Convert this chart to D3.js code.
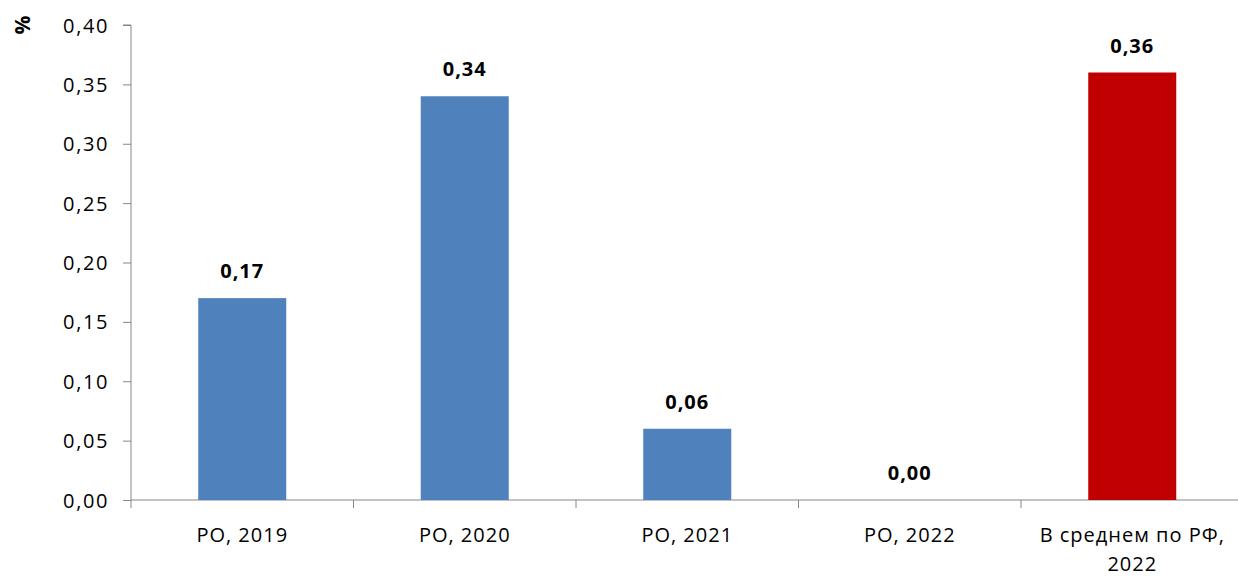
<!DOCTYPE html>
<html><head><meta charset="utf-8">
<script src="https://cdn.jsdelivr.net/npm/d3@7"></script>
<style>body{margin:0;background:#fff}svg{display:block}text{font-family:"Open Sans",sans-serif}</style>
</head><body>
<svg id="c" width="1238" height="578"></svg>
<script>
const categories = ["РО, 2019", "РО, 2020", "РО, 2021", "РО, 2022", "В среднем по РФ, 2022"];
const categoryLines = [["РО, 2019"], ["РО, 2020"], ["РО, 2021"], ["РО, 2022"], ["В среднем по РФ,", "2022"]];
const values = [0.17, 0.34, 0.06, 0.00, 0.36];
const barColors = ["#4F81BD", "#4F81BD", "#4F81BD", "#4F81BD", "#C00000"];
const tickValues = [0, 0.05, 0.10, 0.15, 0.20, 0.25, 0.30, 0.35, 0.40];
const yTitle = "%";

const svg = d3.select("#c");
const pLeft = 131, pRight = 1243.5, pTop = 25, pBottom = 500;
const fmt = v => v.toFixed(2).replace(".", ",");

const x = d3.scaleBand().domain(categories).range([pLeft, pRight]).padding(0);
const y = d3.scaleLinear().domain([0, 0.40]).range([pBottom, pTop]);
const axisColor = "#868686";

// y axis
const yAxis = svg.append("g").attr("transform", `translate(${pLeft},0)`)
  .call(d3.axisLeft(y).tickValues(tickValues).tickSize(8).tickPadding(14).tickFormat(fmt));
yAxis.select(".domain").attr("stroke", axisColor).attr("d", `M-8,${pTop}H0V${pBottom}`);
yAxis.selectAll(".tick line").attr("stroke", axisColor);
yAxis.selectAll(".tick text").attr("font-size", 20).attr("fill", "#000").attr("letter-spacing", 1.6).attr("dy", "0.35em");

// x axis
const xg = svg.append("g").attr("transform", `translate(0,${pBottom})`);
xg.append("line").attr("x1", pLeft).attr("x2", 1238).attr("y1", 0).attr("y2", 0).attr("stroke", axisColor);
const bounds = categories.map(c => x(c));
xg.selectAll("line.tk").data(bounds).join("line").attr("class", "tk")
  .attr("x1", d => d).attr("x2", d => d).attr("y1", 0).attr("y2", 8).attr("stroke", axisColor);
xg.selectAll("text.cat").data(categories).join("text").attr("class", "cat")
  .attr("text-anchor", "middle").attr("font-size", 20).attr("letter-spacing", 1.0)
  .attr("x", d => x(d) + x.bandwidth() / 2)
  .each(function(d, i) {
    const t = d3.select(this);
    categoryLines[i].forEach((ln, j) => t.append("tspan").attr("x", x(d) + x.bandwidth() / 2).attr("y", 42 + j * 29).text(ln));
  });

// bars
const bw = 88;
svg.selectAll("rect.bar").data(values).join("rect").attr("class", "bar")
  .attr("x", (d, i) => x(categories[i]) + x.bandwidth() / 2 - bw / 2)
  .attr("width", bw)
  .attr("y", d => y(d)).attr("height", d => y(0) - y(d))
  .attr("fill", (d, i) => barColors[i]);

// labels
svg.selectAll("text.lbl").data(values).join("text").attr("class", "lbl")
  .attr("x", (d, i) => x(categories[i]) + x.bandwidth() / 2)
  .attr("y", d => y(d) - 20)
  .attr("text-anchor", "middle").attr("font-size", 20).attr("font-weight", "bold").attr("letter-spacing", 1.0)
  .text(fmt);

// y title
svg.append("text").attr("transform", "translate(30,25) rotate(-90)")
  .attr("text-anchor", "middle").attr("font-size", 21).attr("font-weight", "bold").text(yTitle);
</script>
</body></html>
